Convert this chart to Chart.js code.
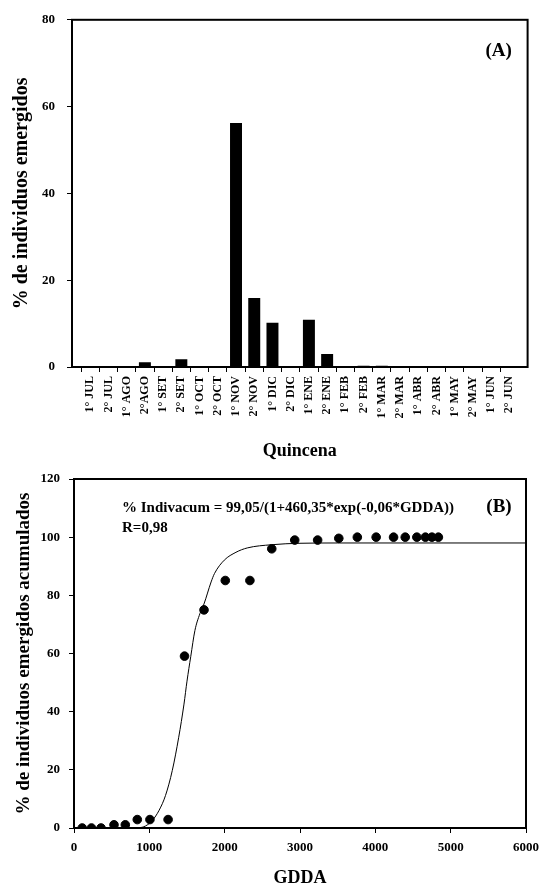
<!DOCTYPE html>
<html>
<head>
<meta charset="utf-8">
<script src="https://cdn.jsdelivr.net/npm/chart.js@4/dist/chart.umd.min.js"></script>
<style>
  html, body { margin: 0; padding: 0; background: #fff; }
  #wrap { position: relative; width: 546px; height: 889px; }
  #chartA { position: absolute; left: 0; top: 0; }
  #chartB { position: absolute; left: 0; top: 460px; }
</style>
</head>
<body>
<div id="wrap">
  <canvas id="chartA" width="546" height="470"></canvas>
  <canvas id="chartB" width="546" height="429"></canvas>
</div>
<script>
// (A) emergence per fortnight
const quincenas = ['1° JUL', '2° JUL', '1° AGO', '2°AGO', '1° SET', '2° SET', '1° OCT', '2° OCT',
  '1° NOV', '2° NOV', '1° DIC', '2° DIC', '1° ENE', '2° ENE', '1° FEB', '2° FEB',
  '1° MAR', '2° MAR', '1° ABR', '2° ABR', '1° MAY', '2° MAY', '1° JUN', '2° JUN'];
const emergidos = [0, 0, 0, 1.1, 0, 1.8, 0, 0, 56.2, 15.9, 10.2, 0, 10.9, 3.0, 0, 0.3,
  0.3, 0, 0, 0, 0, 0, 0, 0];
const yTicksA = [0, 20, 40, 60, 80];

// (B) cumulative emergence vs GDDA
const gdda = [109, 232, 359, 531, 681, 840, 1008, 1249, 1467, 1726, 2008, 2335,
  2625, 2930, 3234, 3515, 3761, 4011, 4242, 4397, 4551, 4665, 4751, 4837];
const acumulados = [0, 0, 0, 1.1, 1.1, 2.9, 2.9, 2.9, 59.1, 75.0, 85.1, 85.1,
  96.0, 99.0, 99.0, 99.6, 100, 100, 100, 100, 100, 100, 100, 100];
// fitted curve
const curveX = [0, 500, 860, 950, 1040, 1130, 1215, 1305, 1390, 1460, 1500, 1550, 1605,
  1670, 1725, 1820, 1865, 1995, 2150, 2300, 2625, 3000, 3500, 6000];
const curveY = [0, 0, 0.1, 0.7, 2.6, 6.1, 11.2, 19.8, 31.2, 42.6, 50.5, 59, 67.9,
  73.6, 77, 84.6, 87.5, 92.1, 94.8, 96.3, 97.4, 97.9, 98, 98];
const yTicksB = [0, 20, 40, 60, 80, 100, 120];
const xTicksB = [0, 1000, 2000, 3000, 4000, 5000, 6000];

Chart.defaults.font.family = "'Liberation Serif', 'Times New Roman', serif";
Chart.defaults.font.weight = 'bold';
Chart.defaults.color = '#000';

function framePlugin(labels) {
  return {
    id: 'frame',
    afterDraw(chart) {
      const { ctx, chartArea: a } = chart;
      ctx.save();
      ctx.strokeStyle = '#000';
      ctx.lineWidth = 2;
      ctx.strokeRect(a.left, a.top, a.right - a.left, a.bottom - a.top);
      ctx.fillStyle = '#000';
      ctx.textBaseline = 'middle';
      labels.forEach(l => {
        ctx.font = 'bold ' + l.size + "px 'Liberation Serif', serif";
        ctx.textAlign = l.align;
        const x = l.fromRight ? a.right - l.dx : a.left + l.dx;
        ctx.fillText(l.text, x, a.top + l.dy);
      });
      ctx.restore();
    }
  };
}

// pad the category axis by one empty slot at each end
const labelsA = [''].concat(quincenas, ['']);
const dataA = [null].concat(emergidos, [null]);

new Chart(document.getElementById('chartA'), {
  type: 'bar',
  data: {
    labels: labelsA,
    datasets: [{
      data: dataA,
      backgroundColor: '#000',
      borderWidth: 0,
      barPercentage: 0.9,
      categoryPercentage: 0.73
    }]
  },
  options: {
    responsive: false,
    animation: false,
    layout: { padding: { top: 17, right: 16, left: 0, bottom: 0 } },
    plugins: { legend: { display: false }, tooltip: { enabled: false } },
    scales: {
      x: {
        offset: false,
        border: { display: false },
        grid: {
          drawOnChartArea: false,
          tickLength: 5,
          color: c => (c.index === 0 || c.index === labelsA.length - 1) ? 'rgba(0,0,0,0)' : '#000'
        },
        ticks: { autoSkip: false, maxRotation: 90, minRotation: 90, padding: 4, font: { size: 12 } },
        title: { display: true, text: 'Quincena', font: { size: 18 }, padding: { top: 0, bottom: 8 } },
        afterFit: s => { s.height = 103; }
      },
      y: {
        min: 0,
        max: 80,
        border: { display: false },
        grid: { drawOnChartArea: false, tickLength: 5, color: '#000' },
        afterBuildTicks: s => { s.ticks = yTicksA.map(v => ({ value: v })); },
        ticks: { padding: 12, font: { size: 13 } },
        title: { display: true, text: '% de individuos emergidos', font: { size: 20 }, padding: { top: 10, bottom: 0 } },
        afterFit: s => { s.width = 72; }
      }
    }
  },
  plugins: [framePlugin([{ text: '(A)', size: 19, align: 'center', fromRight: true, dx: 29, dy: 31 }])]
});

new Chart(document.getElementById('chartB'), {
  type: 'scatter',
  data: {
    datasets: [{
      data: gdda.map((x, i) => ({ x: x, y: acumulados[i] })),
      backgroundColor: '#000',
      borderColor: '#000',
      pointRadius: 4.3,
      pointHoverRadius: 4.3
    }, {
      type: 'line',
      data: curveX.map((x, i) => ({ x: x, y: curveY[i] })),
      borderColor: '#000',
      borderWidth: 1,
      pointRadius: 0,
      cubicInterpolationMode: 'monotone',
      fill: false
    }]
  },
  options: {
    responsive: false,
    animation: false,
    layout: { padding: { top: 19, right: 13, left: 0, bottom: 0 } },
    plugins: { legend: { display: false }, tooltip: { enabled: false } },
    scales: {
      x: {
        type: 'linear',
        min: 0,
        max: 6000,
        border: { display: false },
        grid: { drawOnChartArea: false, tickLength: 5, color: '#000' },
        afterBuildTicks: s => { s.ticks = xTicksB.map(v => ({ value: v })); },
        ticks: { padding: 7, font: { size: 13 }, maxRotation: 0, callback: v => String(v) },
        title: { display: true, text: 'GDDA', font: { size: 18 }, padding: { top: 0, bottom: 0 } },
        afterFit: s => { s.height = 61; }
      },
      y: {
        min: 0,
        max: 120,
        border: { display: false },
        grid: { drawOnChartArea: false, tickLength: 5, color: '#000' },
        afterBuildTicks: s => { s.ticks = yTicksB.map(v => ({ value: v })); },
        ticks: { padding: 9, font: { size: 13 } },
        title: { display: true, text: '% de individuos emergidos acumulados', font: { size: 19 }, padding: { top: 13, bottom: 0 } },
        afterFit: s => { s.width = 74; }
      }
    }
  },
  plugins: [framePlugin([
    { text: '% Indivacum = 99,05/(1+460,35*exp(-0,06*GDDA))', size: 15, align: 'left', fromRight: false, dx: 48, dy: 29 },
    { text: 'R=0,98', size: 15, align: 'left', fromRight: false, dx: 48, dy: 49 },
    { text: '(B)', size: 19, align: 'center', fromRight: true, dx: 27, dy: 28 }
  ])]
});
</script>
</body>
</html>
